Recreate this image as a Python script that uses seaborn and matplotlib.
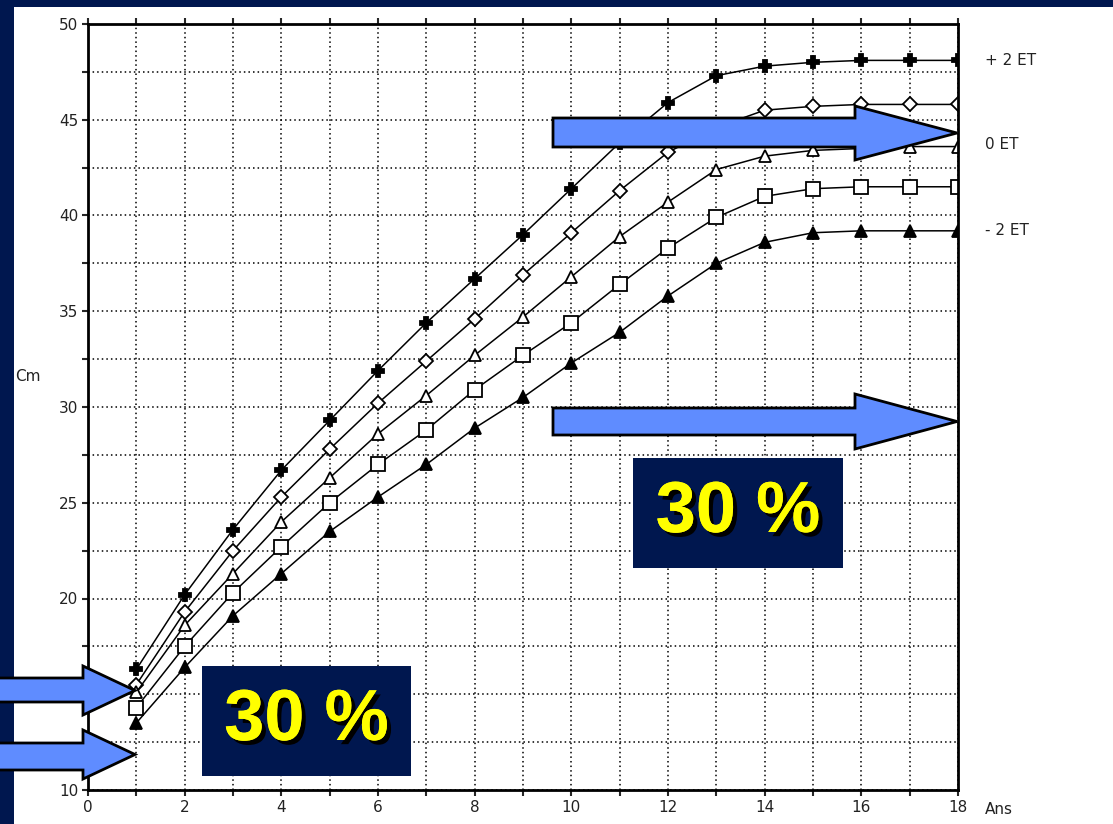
import matplotlib
matplotlib.use("Agg")
import matplotlib.pyplot as plt
import matplotlib.patches as mpatches
import matplotlib.patheffects as pe
import numpy as np
import seaborn as sns

# ages (years)
ages = list(range(1, 19))

# head circumference (cm) for each curve
plus2 = [16.3, 20.2, 23.6, 26.7, 29.3, 31.9, 34.4, 36.7, 39.0, 41.4, 43.8, 45.9, 47.3, 47.8, 48.0, 48.1, 48.1, 48.1]
plus1 = [15.5, 19.3, 22.5, 25.3, 27.8, 30.2, 32.4, 34.6, 36.9, 39.1, 41.3, 43.3, 44.6, 45.5, 45.7, 45.8, 45.8, 45.8]
mean0 = [15.1, 18.6, 21.3, 24.0, 26.3, 28.6, 30.6, 32.7, 34.7, 36.8, 38.9, 40.7, 42.4, 43.1, 43.4, 43.5, 43.6, 43.6]
minus1 = [14.3, 17.5, 20.3, 22.7, 25.0, 27.0, 28.8, 30.9, 32.7, 34.4, 36.4, 38.3, 39.9, 41.0, 41.4, 41.5, 41.5, 41.5]
minus2 = [13.5, 16.4, 19.1, 21.3, 23.5, 25.3, 27.0, 28.9, 30.5, 32.3, 33.9, 35.8, 37.5, 38.6, 39.1, 39.2, 39.2, 39.2]

curve_labels = ["+ 2 ET", "0 ET", "- 2 ET"]
label_values = [48.1, 43.7, 39.2]
percent_text = "30 %"

NAVY = "#00174f"
BLUE = "#5f8cff"
W, H = 1113, 824

sns.set_style("white")
fig = plt.figure(figsize=(W / 100, H / 100), dpi=100)
fig.patch.set_facecolor(NAVY)


def px(x, y):
    # pixel coords (top-left origin) -> figure fraction
    return x / W, 1 - y / H


# white slide panel, behind the axes
x0, y0 = px(14, 824)
panel = mpatches.Rectangle((x0, y0), 1 - x0, (824 - 7) / H, transform=fig.transFigure,
                           facecolor="white", edgecolor="none", zorder=-10)
fig.patches.append(panel)

ax = fig.add_axes([88 / W, 1 - 790 / H, (958 - 88) / W, (790 - 24) / H])
ax.set_facecolor("white")

styles = [
    (plus2, "P", 8, "black"),
    (plus1, "D", 7, "white"),
    (mean0, "^", 9, "white"),
    (minus1, "s", 10, "white"),
    (minus2, "^", 9, "black"),
]
for vals, mk, ms, fc in styles:
    sns.lineplot(x=ages, y=vals, ax=ax, color="black", lw=1.1, marker=mk,
                 markersize=ms, markerfacecolor=fc, markeredgecolor="black",
                 markeredgewidth=1.3, zorder=3)
for line in ax.lines:
    line.set_clip_on(True)

ax.set_xlim(0, 18)
ax.set_ylim(10, 50)
ax.set_xticks(range(0, 19, 2))
ax.set_xticks(range(0, 19), minor=True)
ax.set_yticks(range(10, 51, 5))
ax.set_yticks(np.arange(10, 50.1, 2.5), minor=True)
ax.grid(which="both", color="black", linestyle=(0, (1, 2)), lw=1.1)
for s in ax.spines.values():
    s.set_visible(True)
    s.set_color("black")
    s.set_linewidth(2)
    s.set_zorder(5)
ax.tick_params(which="both", direction="out", length=4, width=1.5,
               bottom=True, left=True, top=True, right=False,
               labelsize=11, labelcolor="#222222", pad=3)
ax.set_xlabel("")
ax.set_ylabel("")

fig.text(15 / W, 1 - 377 / H, "Cm", fontsize=11, color="#222222", va="center", ha="left")
fig.text(985 / W, 1 - 810 / H, "Ans", fontsize=11, color="#222222", va="center", ha="left")

for lab, v in zip(curve_labels, label_values):
    ax.text(18.55, v, lab, fontsize=11, color="#222222", va="center", ha="left",
            clip_on=False)


def arrow(xs, xh, xt, sy0, sy1, hy0, hy1):
    ty = (hy0 + hy1) / 2
    pts = [px(xs, sy0), px(xh, sy0), px(xh, hy0), px(xt, ty),
           px(xh, hy1), px(xh, sy1), px(xs, sy1)]
    poly = mpatches.Polygon(pts, closed=True, transform=fig.transFigure,
                            facecolor=BLUE, edgecolor="black", lw=2, zorder=10)
    fig.patches.append(poly)


arrow(553, 855, 957, 118, 147, 106, 160)
arrow(553, 855, 957, 408, 435, 394, 449)
arrow(-5, 83, 135, 678, 702, 666, 715)
arrow(-5, 83, 135, 743, 770, 730, 779)


def label_box(bx0, by0, bx1, by1):
    a, b = px(bx0, by1)
    rect = mpatches.Rectangle((a, b), (bx1 - bx0) / W, (by1 - by0) / H,
                              transform=fig.transFigure, facecolor=NAVY,
                              edgecolor="none", zorder=11)
    fig.patches.append(rect)
    cx, cy = px((bx0 + bx1) / 2, (by0 + by1) / 2)
    fig.text(cx, cy, percent_text, fontsize=52, fontweight="bold",
             family="Liberation Sans", color="#ffff00", ha="center", va="center",
             zorder=12,
             path_effects=[pe.withSimplePatchShadow(offset=(3, -3), shadow_rgbFace="black", alpha=1),
                           pe.Normal()])


label_box(202, 666, 411, 776)
label_box(633, 458, 843, 568)

fig.savefig("out.png", dpi=100, facecolor=NAVY)
